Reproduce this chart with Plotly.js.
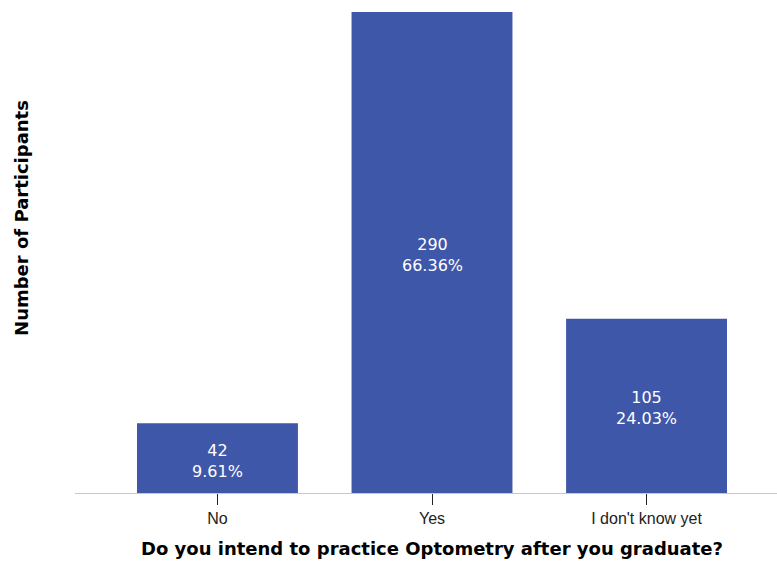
<!DOCTYPE html>
<html>
<head>
<meta charset="utf-8">
<script src="https://cdn.plot.ly/plotly-3.0.1.min.js"></script>
<style>html,body{margin:0;padding:0;background:#fff;}#chart{width:777px;height:563px;}</style>
</head>
<body>
<div id="chart"></div>
<script>
const categories = ["No", "Yes", "I don't know yet"];
const counts = [42, 290, 105];
const percents = ["9.61%", "66.36%", "24.03%"];

const xpos = categories.map((c, i) => i);

const trace = {
  type: "bar",
  x: xpos,
  y: counts,
  width: 0.75,
  marker: {color: "#3e57a9", line: {width: 0}},
  hoverinfo: "none"
};

const labelFont = {family: "DejaVu Sans, sans-serif", size: 16, color: "#ffffff"};
const annotations = counts.map((c, i) => ({
  x: xpos[i], y: c / 2, xref: "x", yref: "y",
  text: c + "<br>" + percents[i],
  showarrow: false, yshift: -2.5, font: labelFont,
  xanchor: "center", yanchor: "middle", align: "center"
}));
annotations.push({
  text: "<b>Number of Participants</b>",
  xref: "paper", yref: "paper",
  x: -0.0755, y: 0.558,
  xanchor: "center", yanchor: "middle",
  textangle: -90, showarrow: false,
  font: {size: 18, color: "#000", family: "DejaVu Sans, sans-serif"}
});
annotations.push({
  text: "<b>Do you intend to practice Optometry after you graduate?</b>",
  xref: "paper", yref: "paper",
  x: 0.5085, y: -0.1116,
  xanchor: "center", yanchor: "middle", showarrow: false,
  font: {size: 18, color: "#000", family: "DejaVu Sans, sans-serif"}
});

const layout = {
  width: 777, height: 563,
  margin: {l: 75, r: 0, t: 0, b: 70},
  paper_bgcolor: "#ffffff",
  plot_bgcolor: "#ffffff",
  showlegend: false,
  font: {family: "Liberation Sans, Arial, sans-serif", color: "#222"},
  xaxis: {
    range: [-0.664, 2.608],
    tickmode: "array",
    tickvals: xpos,
    ticktext: categories,
    ticks: "outside", ticklen: 11, tickwidth: 1, tickcolor: "#222",
    tickfont: {size: 16, color: "#222", family: "Liberation Sans, Arial, sans-serif"},
    showline: true, linecolor: "#c8c8c8", linewidth: 1,
    showgrid: false, zeroline: false, fixedrange: true
  },
  yaxis: {
    range: [0, 297.2],
    showticklabels: false, ticks: "",
    showgrid: false, zeroline: false, showline: false, fixedrange: true
  },
  annotations: annotations
};

Plotly.newPlot("chart", [trace], layout, {displayModeBar: false, staticPlot: true});
</script>
</body>
</html>
